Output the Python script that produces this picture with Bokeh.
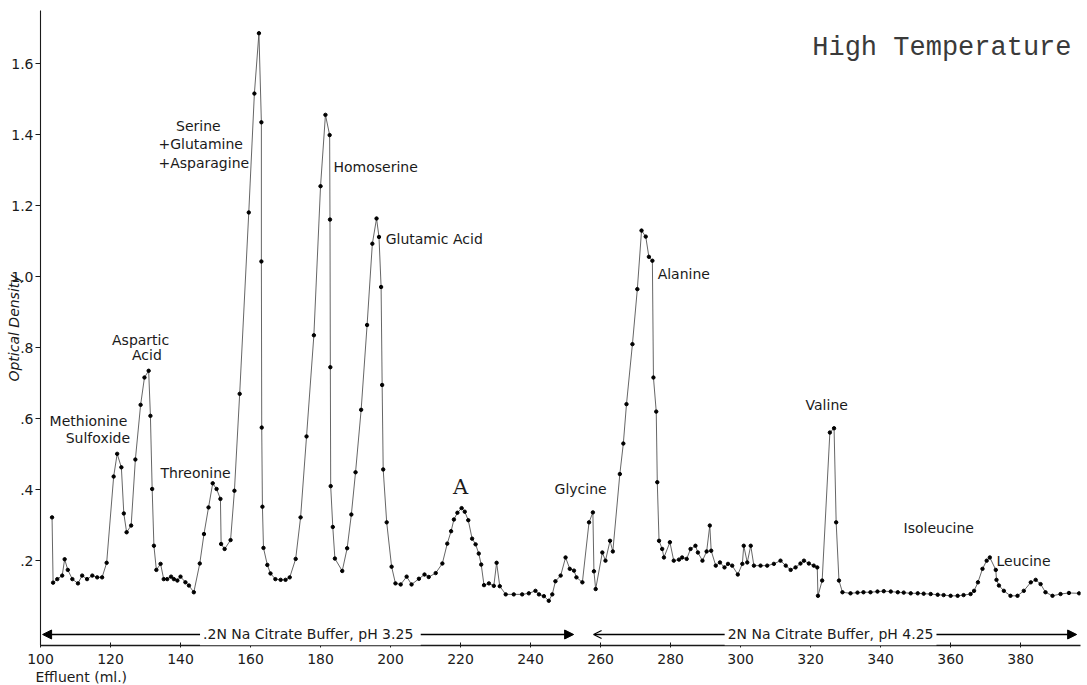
from bokeh.plotting import figure
from bokeh.models import (ColumnDataSource, FixedTicker, CustomJSTickFormatter,
                          Label, Arrow, NormalHead, OpenHead, Title)
from bokeh.embed import file_html
from bokeh.resources import INLINE

# Effluent volume (ml) and optical density of each fraction
effluent_ml = [
    103.3, 103.6, 104.8, 106.2, 106.9, 107.8, 109.1, 110.7, 111.9, 113.3,
    114.8, 116.2, 117.6, 118.9, 120.9, 121.9, 123.1, 123.8, 124.6, 125.9,
    127.1, 128.6, 129.7, 130.9, 131.4, 131.9, 132.4, 133.1, 134.3, 135.2,
    136.2, 137.3, 138.1, 139.1, 140.0, 141.4, 142.4, 143.8, 145.5, 146.7,
    148.0, 149.2, 150.3, 151.4, 151.6, 152.6, 154.3, 155.4, 156.9, 159.5,
    161.1, 162.4, 163.1, 163.1, 163.2, 163.4, 163.7, 164.8, 165.7, 167.1,
    168.6, 170.0, 171.2, 172.9, 174.3, 176.0, 178.1, 180.0, 181.4, 182.6,
    182.7, 182.8, 182.9, 183.5, 184.1, 186.2, 187.6, 188.8, 190.0, 191.6,
    193.3, 194.8, 196.0, 196.7, 197.3, 197.6, 197.9, 198.9, 200.3, 201.4,
    202.9, 204.6, 206.0, 208.1, 209.7, 210.9, 212.9, 214.8, 216.2, 217.3,
    218.1, 219.1, 220.3, 221.2, 222.2, 223.3, 224.3, 225.2, 225.9, 226.7,
    228.1, 229.5, 230.3, 231.2, 232.9, 235.2, 237.6, 239.5, 241.4, 242.4,
    243.8, 245.2, 246.2, 247.1, 248.6, 250.0, 251.2, 252.4, 253.1, 254.8,
    256.7, 257.8, 258.1, 258.6, 260.5, 261.4, 262.7, 263.5, 265.5, 266.5,
    267.4, 269.1, 270.5, 271.7, 272.9, 273.8, 274.8, 275.1, 275.9, 276.2,
    276.7, 277.6, 278.1, 279.8, 280.9, 282.4, 283.3, 284.6, 285.7, 287.1,
    287.8, 289.1, 290.3, 291.2, 291.6, 292.9, 294.1, 295.4, 296.4, 297.6,
    299.2, 300.5, 300.9, 301.9, 302.9, 303.8, 305.7, 307.6, 309.5, 311.4,
    312.9, 314.3, 315.7, 317.1, 318.1, 319.5, 320.9, 321.9, 322.1, 323.3,
    325.5, 326.7, 327.3, 328.1, 329.1, 331.4, 333.4, 335.1, 337.1, 339.1,
    340.9, 342.9, 344.9, 346.6, 348.6, 350.6, 352.3, 354.3, 356.3, 358.0,
    360.0, 362.0, 363.7, 365.7, 366.7, 367.8, 369.1, 370.3, 371.2, 372.9,
    373.1, 373.8, 375.2, 377.1, 379.1, 380.9, 382.9, 384.3, 385.7, 387.1,
    389.1, 391.4, 393.8, 396.7,
]

optical_density = [
    0.322, 0.138, 0.148, 0.158, 0.204, 0.174, 0.148, 0.136, 0.158, 0.148,
    0.158, 0.153, 0.153, 0.194, 0.437, 0.501, 0.463, 0.333, 0.280, 0.299,
    0.485, 0.639, 0.716, 0.735, 0.608, 0.402, 0.242, 0.174, 0.191, 0.148,
    0.148, 0.155, 0.148, 0.144, 0.155, 0.139, 0.130, 0.111, 0.192, 0.275,
    0.350, 0.418, 0.402, 0.374, 0.247, 0.233, 0.258, 0.397, 0.670, 1.181,
    1.516, 1.686, 1.435, 1.043, 0.575, 0.352, 0.236, 0.188, 0.164, 0.148,
    0.146, 0.146, 0.153, 0.205, 0.322, 0.550, 0.835, 1.255, 1.456, 1.399,
    1.161, 0.745, 0.410, 0.295, 0.206, 0.171, 0.235, 0.330, 0.449, 0.625,
    0.864, 1.093, 1.164, 1.112, 0.971, 0.695, 0.457, 0.308, 0.183, 0.136,
    0.133, 0.155, 0.133, 0.149, 0.161, 0.154, 0.165, 0.192, 0.248, 0.283,
    0.316, 0.335, 0.348, 0.338, 0.314, 0.262, 0.246, 0.220, 0.189, 0.131,
    0.136, 0.129, 0.194, 0.128, 0.105, 0.105, 0.105, 0.108, 0.115, 0.105,
    0.100, 0.087, 0.105, 0.142, 0.158, 0.209, 0.177, 0.172, 0.153, 0.139,
    0.308, 0.336, 0.170, 0.120, 0.223, 0.200, 0.256, 0.226, 0.444, 0.530,
    0.641, 0.810, 0.965, 1.130, 1.113, 1.056, 1.045, 0.716, 0.620, 0.421,
    0.256, 0.233, 0.209, 0.252, 0.200, 0.203, 0.209, 0.205, 0.233, 0.242,
    0.223, 0.200, 0.226, 0.299, 0.228, 0.186, 0.195, 0.181, 0.191, 0.186,
    0.161, 0.191, 0.242, 0.195, 0.242, 0.186, 0.186, 0.186, 0.191, 0.200,
    0.186, 0.174, 0.181, 0.192, 0.200, 0.192, 0.186, 0.181, 0.101, 0.144,
    0.561, 0.573, 0.308, 0.144, 0.111, 0.108, 0.110, 0.111, 0.111, 0.113,
    0.114, 0.113, 0.111, 0.110, 0.108, 0.108, 0.107, 0.106, 0.104, 0.103,
    0.101, 0.101, 0.103, 0.106, 0.115, 0.139, 0.177, 0.200, 0.209, 0.174,
    0.146, 0.130, 0.115, 0.101, 0.101, 0.115, 0.139, 0.146, 0.134, 0.111,
    0.101, 0.106, 0.109, 0.108,
]

x_ticks = [100, 120, 140, 160, 180, 200, 220, 240, 260, 280, 300, 320, 340, 360, 380]
y_ticks = [0.2, 0.4, 0.6, 0.8, 1.0, 1.2, 1.4, 1.6]

# Peak names: (text, effluent ml, optical density, alignment)
peak_names = [
    ("Methionine", 113.7, 0.594, "center"),
    ("Sulfoxide", 116.4, 0.546, "center"),
    ("Aspartic", 128.6, 0.823, "center"),
    ("Acid", 130.4, 0.780, "center"),
    ("Threonine", 144.3, 0.448, "center"),
    ("Serine", 145.1, 1.425, "center"),
    ("+Glutamine", 133.7, 1.375, "left"),
    ("+Asparagine", 133.7, 1.321, "left"),
    ("Homoserine", 183.7, 1.310, "left"),
    ("Glutamic Acid", 198.6, 1.107, "left"),
    ("Glycine", 254.3, 0.403, "center"),
    ("Alanine", 276.3, 1.008, "left"),
    ("Valine", 324.6, 0.639, "center"),
    ("Isoleucine", 356.6, 0.293, "center"),
    ("Leucine", 373.1, 0.200, "left"),
]

buffers = [
    (".2N Na Citrate Buffer, pH  3.25", 100.6, 252.3, 177.1),
    ("2N Na Citrate Buffer, pH 4.25", 258.0, 396.0, 325.7),
]

FONT = "DejaVu Sans"
INK = "#1a1a1a"

source = ColumnDataSource(data=dict(ml=effluent_ml, od=optical_density))

p = figure(width=1087, height=685, output_backend="svg", toolbar_location=None,
           x_range=(100, 397.1), y_range=(-0.039, 1.75),
           min_border_left=40, min_border_right=7, min_border_top=10,
           min_border_bottom=40)
p.outline_line_color = None
p.xgrid.visible = False
p.ygrid.visible = False
p.background_fill_color = "white"
p.border_fill_color = "white"

p.line("ml", "od", source=source, line_color="#555555", line_width=0.9)
p.scatter("ml", "od", source=source, marker="circle", size=3.4,
          fill_color="black", line_color="black")

# axes
xa = p.xaxis[0]
xa.ticker = FixedTicker(ticks=x_ticks)
xa.axis_line_color = INK
xa.axis_line_width = 1.3
xa.major_tick_line_color = INK
xa.major_tick_in = 3
xa.major_tick_out = 2
xa.minor_tick_line_color = None
xa.major_label_standoff = 6
xa.major_label_text_font = FONT
xa.major_label_text_font_size = "14px"
xa.major_label_text_color = INK

ya = p.yaxis[0]
ya.ticker = FixedTicker(ticks=y_ticks)
ya.formatter = CustomJSTickFormatter(
    code="const s = tick.toFixed(1); return tick < 1 ? s.slice(1) : s;")
ya.axis_line_color = INK
ya.axis_line_width = 1.1
ya.major_tick_line_color = INK
ya.major_tick_in = 0
ya.major_tick_out = 5
ya.minor_tick_line_color = None
ya.major_label_standoff = 2
ya.major_label_text_font = FONT
ya.major_label_text_font_size = "14px"
ya.major_label_text_color = INK
# y title tucked in beside the tick labels
ya.axis_label = "Optical Density"
ya.axis_label_standoff = -14
ya.axis_label_text_font = FONT
ya.axis_label_text_font_size = "14px"
ya.axis_label_text_font_style = "italic"
ya.axis_label_text_color = INK

# x title at the left end, under the first tick labels
p.add_layout(Title(text="Effluent (ml.)", align="left", offset=-5,
                   standoff=0, text_font=FONT, text_font_size="14px",
                   text_font_style="normal", text_color=INK), "below")

# buffer changes along the bottom
buffer_y = -0.008
for i, (txt, x0, x1, xc) in enumerate(buffers):
    start_head = (NormalHead(size=9, fill_color="black", line_color="black")
                  if i == 0 else OpenHead(size=8, line_color="black", line_width=1.2))
    p.add_layout(Arrow(x_start=x0, y_start=buffer_y, x_end=x1, y_end=buffer_y,
                       line_width=1.4, line_color="black", start=start_head,
                       end=NormalHead(size=9, fill_color="black", line_color="black")))
    p.add_layout(Label(x=xc, y=buffer_y, text=txt, text_font=FONT,
                       text_font_size="14px", text_color=INK,
                       text_align="center", text_baseline="middle",
                       background_fill_color="white", padding=3))

for txt, xv, yv, align in peak_names:
    p.add_layout(Label(x=xv, y=yv, text=txt, text_font=FONT,
                       text_font_size="14px", text_color=INK,
                       text_align=align, text_baseline="middle"))

p.add_layout(Label(x=220.0, y=0.408, text="A", text_font="DejaVu Serif",
                   text_font_size="21px", text_color=INK,
                   text_align="center", text_baseline="middle"))

p.add_layout(Label(x=357.5, y=1.645, text="High Temperature",
                   text_font="Liberation Mono", text_font_size="27px",
                   text_color="#3a3a3a", text_align="center",
                   text_baseline="middle"))

open("out.html", "w").write(file_html(p, INLINE))
